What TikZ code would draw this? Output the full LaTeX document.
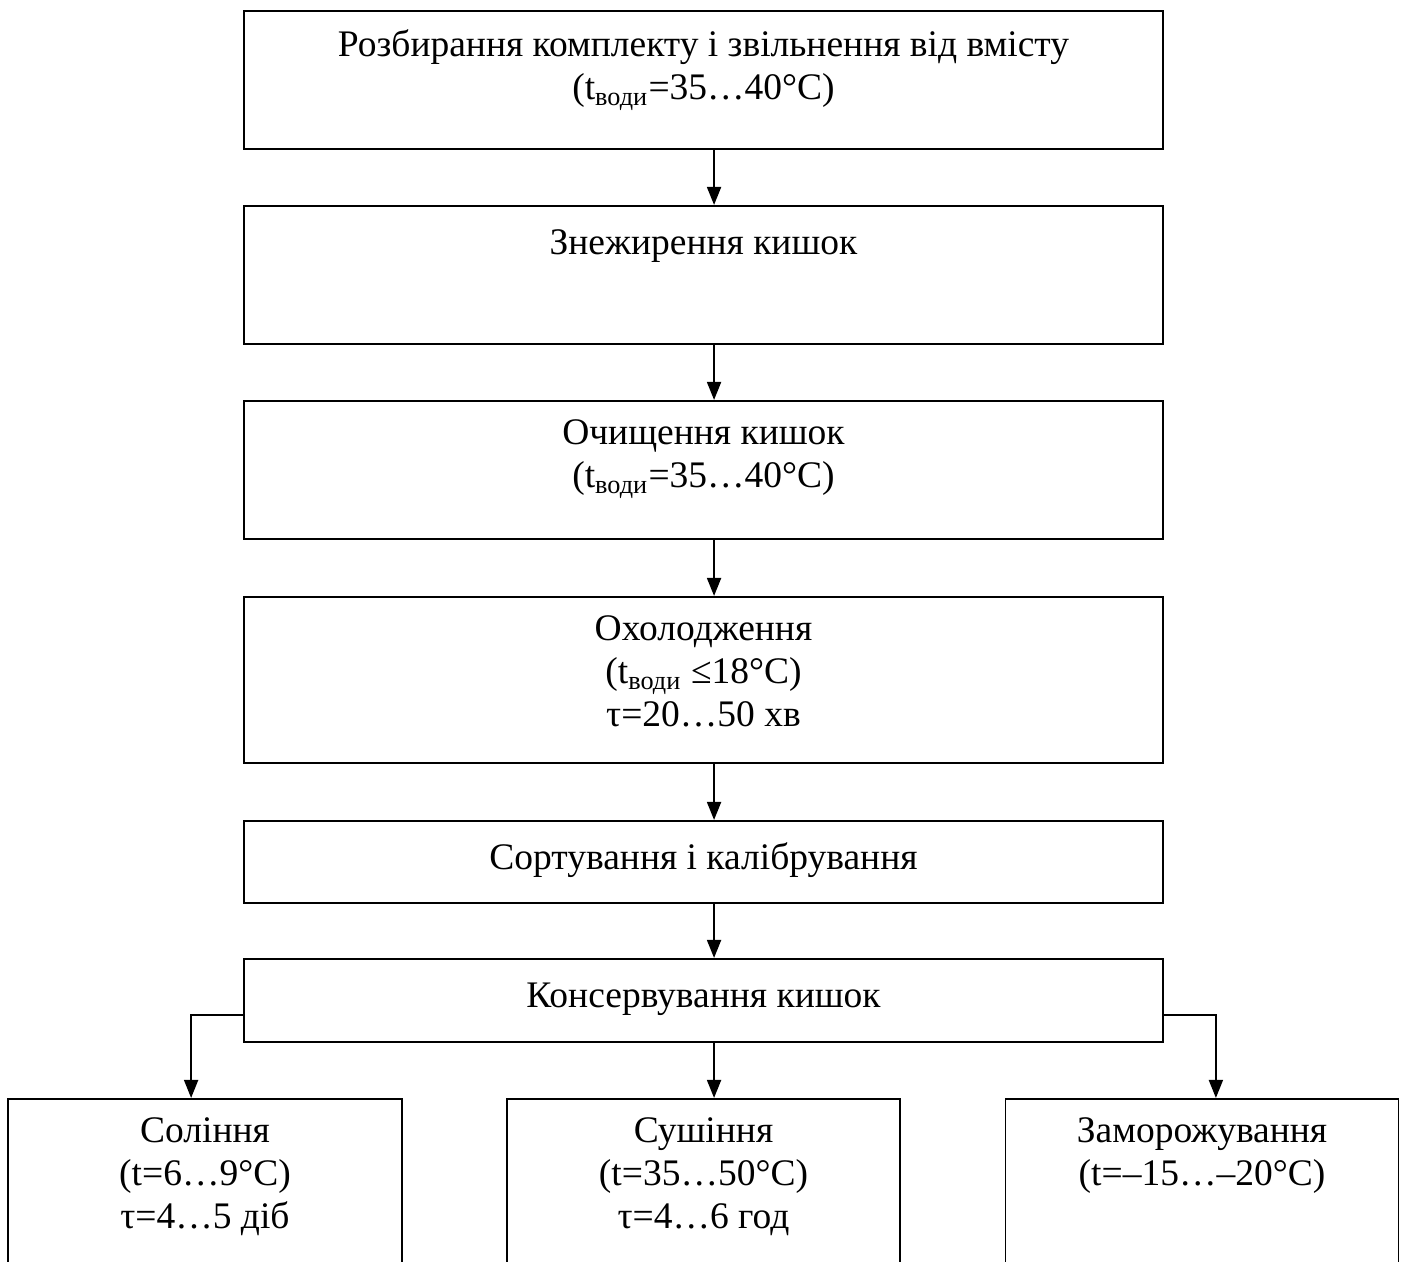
\documentclass[tikz,border=0pt]{standalone}
\usepackage{fontspec}
\setmainfont{Liberation Serif}
\usetikzlibrary{arrows.meta}
\usetikzlibrary{positioning}
\newcommand{\px}{0.36pt}

\begin{document}
\begin{tikzpicture}[
        x=0.36pt, y=-0.36pt,
        boxS/.style={
            draw=black,
            line width=0.55pt,
            anchor=north,
            inner sep=0pt,
            minimum width=919*\px
        },
        textS/.style={
            align=center,
            inner sep=0pt,
            font=\fontsize{13.5}{15.4}\selectfont,
            execute at begin node=\strut
        },
        arrowS/.style={
            line width=0.8pt,
            -{Triangle[length=6.5pt,width=5pt]}
        },
    ]
    \useasboundingbox (0,0) rectangle (1405,1262);
    \clip (0,0) rectangle (1405,1262);

	% main chain
	\node[boxS, minimum height=138*\px] (razb) at (703.5,10) {};
	\node[boxS, minimum height=138*\px] (znezh) at (703.5,205) {};
	\node[boxS, minimum height=138*\px] (ochysh) at (703.5,400) {};
	\node[boxS, minimum height=166*\px] (okhol) at (703.5,596) {};
	\node[boxS, minimum height=82*\px] (sort) at (703.5,820) {};
	\node[boxS, minimum height=83*\px] (kons) at (703.5,958) {};

	% branches
	\node[boxS, minimum width=394*\px, minimum height=200*\px] (soli) at (205,1098) {};
	\node[boxS, minimum width=393*\px, minimum height=200*\px] (sush) at (703.5,1098) {};
	\node[boxS, minimum width=393*\px, minimum height=200*\px] (zamor) at (1202,1098) {};

	\node[textS, below=6.9pt of razb.north] (razbT) {Розбирання комплекту і звільнення від вмісту\\(t\textsubscript{води}=35…40°C)};
	\node[textS, below=6.9pt of znezh.north] (znezhT) {Знежирення кишок};
	\node[textS, below=6.9pt of ochysh.north] (ochyshT) {Очищення кишок\\(t\textsubscript{води}=35…40°C)};
	\node[textS, below=6.9pt of okhol.north] (okholT) {Охолодження\\(t\textsubscript{води} ≤18°C)\\τ=20…50 хв};
	\node[textS, below=6.9pt of sort.north] (sortT) {Сортування і калібрування};
	\node[textS, below=6.9pt of kons.north] (konsT) {Консервування кишок};
	\node[textS, below=6.9pt of soli.north] (soliT) {Соління\\(t=6…9°C)\\τ=4…5 діб};
	\node[textS, below=6.9pt of sush.north] (sushT) {Сушіння\\(t=35…50°C)\\τ=4…6 год};
	\node[textS, below=6.9pt of zamor.north] (zamorT) {Заморожування\\(t=–15…–20°C)};

	\draw[arrowS] ([xshift=3.8pt]razb.south) -- ([xshift=3.8pt]znezh.north);
	\draw[arrowS] ([xshift=3.8pt]znezh.south) -- ([xshift=3.8pt]ochysh.north);
	\draw[arrowS] ([xshift=3.8pt]ochysh.south) -- ([xshift=3.8pt]okhol.north);
	\draw[arrowS] ([xshift=3.8pt]okhol.south) -- ([xshift=3.8pt]sort.north);
	\draw[arrowS] ([xshift=3.8pt]sort.south) -- ([xshift=3.8pt]kons.north);
	\draw[arrowS] ([xshift=3.8pt]kons.south) -- ([xshift=3.8pt]sush.north);
	\draw[arrowS] ([yshift=-5.2pt]kons.west) -| ([xshift=-5pt]soli.north);
	\draw[arrowS] ([yshift=-5.2pt]kons.east) -| ([xshift=5pt]zamor.north);

\end{tikzpicture}
\end{document}
